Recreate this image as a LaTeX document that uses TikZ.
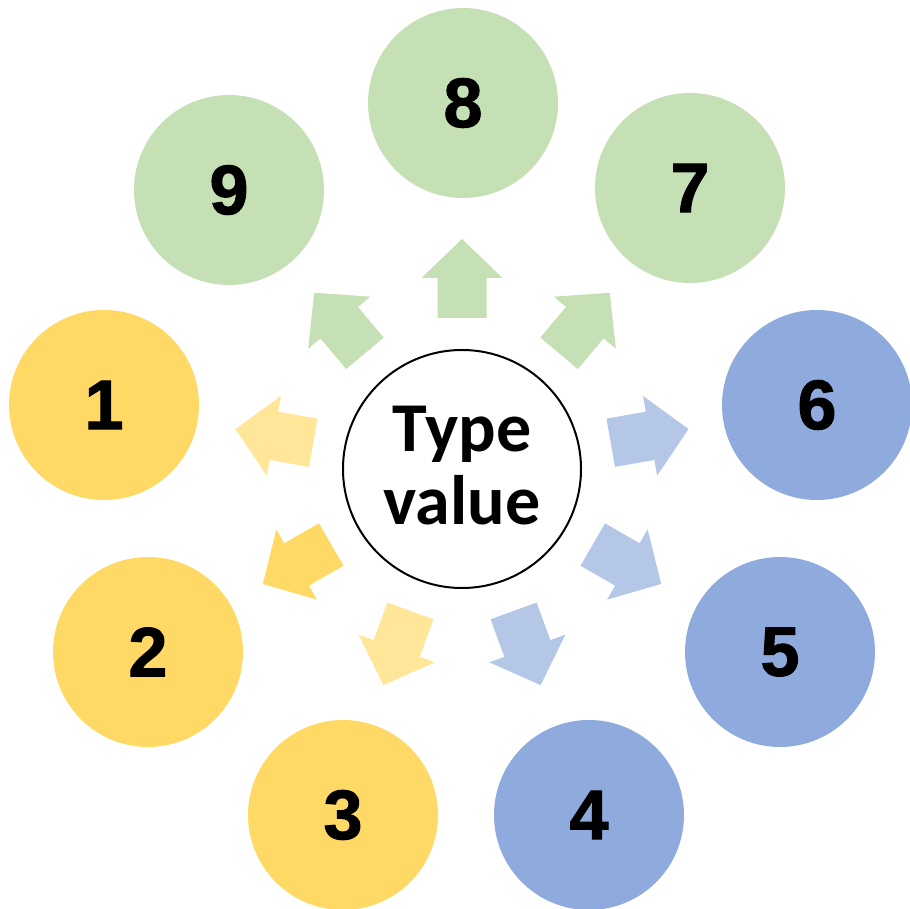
\documentclass[tikz,border=0pt]{standalone}
\usepackage{fontspec}
\setmainfont{Carlito}
\newfontfamily\numfont[BoldFeatures={FakeBold=1.5}]{Liberation Sans}
\definecolor{cgreen}{HTML}{C5E0B4}
\definecolor{cyellow}{HTML}{FFD966}
\definecolor{cyellowlt}{HTML}{FFE699}
\definecolor{cblue}{HTML}{8FAADC}
\definecolor{cbluelt}{HTML}{B4C7E7}
\tikzset{
  outer/.style={circle, minimum size=190pt, inner sep=0pt, fill=#1,
    font=\fontsize{70}{70}\numfont\bfseries},
  centre/.style={circle, minimum size=238pt, inner sep=0pt, draw=black, line width=2pt, fill=white},
  ctext/.style={anchor=base, inner sep=0pt, font=\fontsize{70}{73}\selectfont\bfseries},
}
\newcommand{\blockarrow}[2]{%
  \begin{scope}[shift={(ctr.center)}, rotate=#1]
    \fill[#2] (151,-24.5) -- (191,-24.5) -- (191,-40.5) -- (230,0) -- (191,40.5) -- (191,24.5) -- (151,24.5) -- cycle;
  \end{scope}}
\begin{document}
\begin{tikzpicture}[x=1pt,y=1pt]
\useasboundingbox (0,0) rectangle (910,908);
\clip (0,0) rectangle (910,908);
\node[outer=cgreen] (n8) at (463,805) {8};
\node[outer=cgreen] (n7) at (690,720) {7};
\node[outer=cgreen] (n9) at (229,718) {9};
\node[outer=cblue] (n6) at (817,503) {6};
\node[outer=cblue] (n5) at (780,256) {5};
\node[outer=cblue] (n4) at (589,93) {4};
\node[outer=cyellow] (n3) at (343,93) {3};
\node[outer=cyellow] (n2) at (148,256) {2};
\node[outer=cyellow] (n1) at (104,503) {1};
\node[centre] (ctr) at (462,439) {};
\node[ctext] (t1) at (462,456) {Type};
\node[ctext] (t2) at (462,383) {value};
\blockarrow{90}{cgreen}
\blockarrow{50}{cgreen}
\blockarrow{130}{cgreen}
\blockarrow{10}{cbluelt}
\blockarrow{-30}{cbluelt}
\blockarrow{-70}{cbluelt}
\blockarrow{-110}{cyellowlt}
\blockarrow{-150}{cyellow}
\blockarrow{170}{cyellowlt}
\end{tikzpicture}
\end{document}
